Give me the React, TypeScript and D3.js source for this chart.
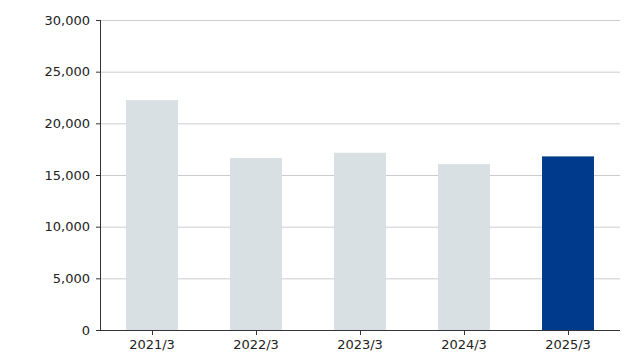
import React from "react";
import * as d3 from "d3";

const categories = ["2021/3", "2022/3", "2023/3", "2024/3", "2025/3"];
const values = [22250, 16650, 17150, 16050, 16800];
const yTicks = [0, 5000, 10000, 15000, 20000, 25000, 30000];

export default function App() {
  const W = 630, H = 360;
  const left = 100, right = 620, top = 20, bottom = 330;
  const x = d3.scaleBand<string>().domain(categories).range([left, right]).paddingInner(0.5).paddingOuter(0.25);
  const y = d3.scaleLinear().domain([0, 30000]).range([bottom, top]);
  const fmt = d3.format(",");
  const font = "DejaVu Sans, Verdana, sans-serif";
  return (
    <svg width={W} height={H} style={{ position: "absolute", left: 0, top: 0 }}>
      <rect width={W} height={H} fill="#fff" />
      {yTicks.filter(t => t > 0).map(t => (
        <line key={t} x1={left} x2={right} y1={y(t) + 0.5} y2={y(t) + 0.5} stroke="#cccccc" strokeWidth={1} />
      ))}
      {categories.map((c, i) => (
        <rect key={c} x={x(c)} y={y(values[i])} width={x.bandwidth()} height={bottom - y(values[i])}
          fill={i === categories.length - 1 ? "#003a8c" : "#d9e0e3"} />
      ))}
      <line x1={left + 0.5} x2={left + 0.5} y1={top} y2={bottom} stroke="#333" strokeWidth={1} />
      <line x1={left} x2={right} y1={bottom + 0.5} y2={bottom + 0.5} stroke="#333" strokeWidth={1} />
      {yTicks.map(t => (
        <g key={t}>
          <line x1={left - 4} x2={left} y1={y(t) + 0.5} y2={y(t) + 0.5} stroke="#333" />
          <text x={left - 10} y={y(t)} dy="0.35em" textAnchor="end" fontFamily={font} fontSize={13} fill="#222">{fmt(t)}</text>
        </g>
      ))}
      {categories.map(c => (
        <g key={c}>
          <line x1={x(c)! + x.bandwidth() / 2 + 0.5} x2={x(c)! + x.bandwidth() / 2 + 0.5} y1={bottom} y2={bottom + 5} stroke="#333" />
          <text x={x(c)! + x.bandwidth() / 2} y={bottom + 14} dy="0.35em" textAnchor="middle" fontFamily={font} fontSize={13} fill="#222">{c}</text>
        </g>
      ))}
    </svg>
  );
}
